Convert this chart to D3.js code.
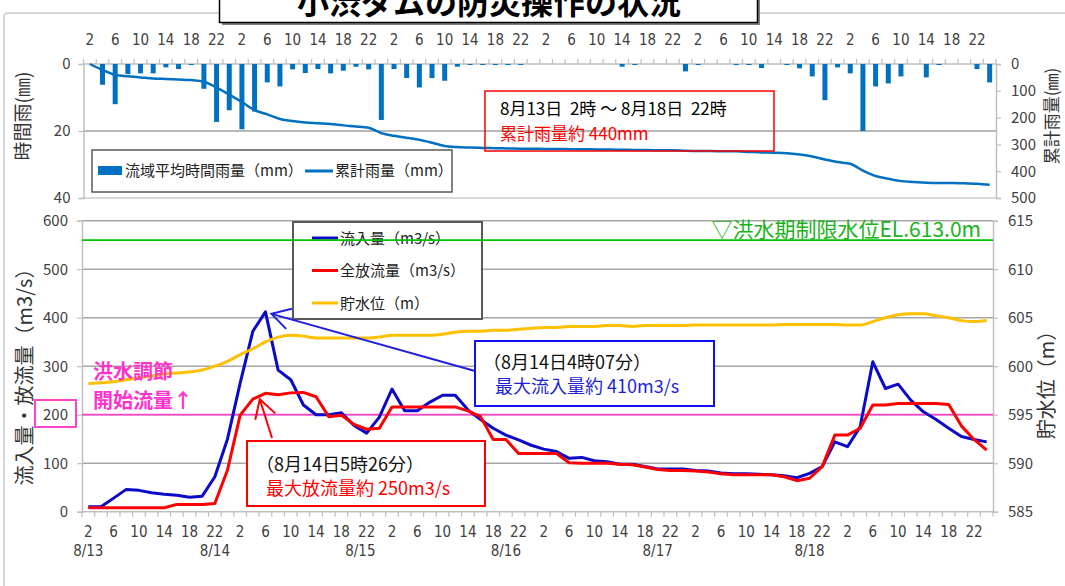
<!DOCTYPE html>
<html>
<head>
<meta charset="utf-8">
<script src="https://cdn.jsdelivr.net/npm/d3@7"></script>
<style>
  body { margin: 0; background: #fff; }
  svg { display: block; }
  text { font-family: "Noto Sans CJK JP", "Noto Sans", sans-serif; }
  .num { font-family: "Liberation Sans Narrow", "DejaVu Sans Condensed", "Liberation Sans", sans-serif; }
  .pre { white-space: pre; }
</style>
</head>
<body>
<svg id="chart" width="1065" height="586"></svg>
<script>
// ---- data: 2-hourly records, 8/13 2:00 to 8/18 24:00 ----
const days = ["8/13", "8/14", "8/15", "8/16", "8/17", "8/18"];
const hoursOfDay = [2, 4, 6, 8, 10, 12, 14, 16, 18, 20, 22, 24];
const hourTickLabels = ["2", "6", "10", "14", "18", "22"];
// category index under which each date label sits
const dateLabelCats = [0, 10, 21.5, 33, 45, 57];

// basin-average hourly rainfall (mm)
const rainHourly = [
  0, 6.2, 12, 3, 2.8, 2.8, 1, 1.5, 0.3, 7.4, 17.3, 13.8,
  19.5, 14.2, 5.5, 6.7, 1.6, 2.7, 1.5, 2.8, 2, 0.8, 1.6, 16.7,
  1.5, 4.2, 7, 4.2, 5, 0.8, 0.3, 0.3, 0.3, 0.3, 0.3, 0,
  0, 0, 0, 0, 0, 0, 0.8, 0.3, 0, 0, 0, 2.2,
  0.3, 0, 0, 0.3, 0.3, 1.2, 0, 0.3, 1.3, 3.7, 10.8, 1,
  2.8, 20, 6.7, 5.8, 3.7, 0, 4, 0.3, 0, 0, 1.5, 5.5
];
// cumulative rainfall (mm)
const rainCumulative = [
  0, 22, 40, 46, 50, 54, 56, 58, 60, 66, 88, 114,
  142, 172, 188, 205, 213, 218, 221, 224, 229, 233, 238, 258,
  268, 275, 283, 294, 306, 310, 312, 313, 314, 315, 316, 316,
  317, 317, 318, 318, 319, 319, 320, 321, 321, 322, 322, 324,
  325, 325, 326, 326, 328, 330, 331, 333, 338, 345, 356, 366,
  372, 398, 418, 428, 437, 440, 443, 444, 444, 445, 447, 451
];
// inflow (m3/s)
const inflow = [
  10, 10, 28, 46, 44, 39, 36, 34, 30, 32, 72, 150,
  265, 372, 412, 292, 272, 220, 200, 200, 204, 178, 162, 195,
  253, 208, 208, 226, 240, 240, 210, 190, 172, 158, 148, 137,
  129, 124, 110, 112, 105, 103, 98, 98, 93, 88, 88, 88,
  85, 84, 80, 78, 78, 77, 76, 74, 70, 79, 93, 144,
  134, 175, 309, 254, 263, 230, 206, 190, 172, 155, 149, 144
];
// total outflow (m3/s)
const outflow = [
  8, 8, 8, 8, 8, 8, 8, 15, 15, 15, 17, 86,
  199, 232, 244, 241, 245, 246, 237, 196, 199, 180, 170, 172,
  216, 216, 216, 216, 216, 216, 208, 196, 149, 149, 120, 120,
  120, 120, 101, 100, 100, 100, 98, 97, 92, 87, 85, 85,
  84, 82, 78, 76, 76, 76, 76, 72, 64, 69, 93, 158,
  158, 172, 220, 220, 223, 223, 223, 223, 221, 177, 149, 127
];
// reservoir water level (m)
const waterLevel = [
  598.2, 598.3, 598.4, 598.6, 598.8, 599.0, 599.2, 599.3, 599.4, 599.6, 600.0, 600.5,
  601.2, 601.8, 602.5, 603.0, 603.2, 603.1, 602.9, 602.9, 602.9, 602.9, 602.9, 603.0,
  603.2, 603.2, 603.2, 603.2, 603.3, 603.5, 603.6, 603.6, 603.7, 603.7, 603.8, 603.9,
  604.0, 604.0, 604.1, 604.1, 604.1, 604.2, 604.2, 604.1, 604.2, 604.2, 604.2, 604.2,
  604.25, 604.25, 604.25, 604.25, 604.25, 604.25, 604.25, 604.3, 604.3, 604.3, 604.3, 604.3,
  604.25, 604.25, 604.6, 605.0, 605.3, 605.4, 605.4, 605.2, 605.0, 604.7, 604.6, 604.7
];
const floodLimitLevel = 613.0;     // flood-season limit water level (m)
const floodControlStart = 200;     // flood control start discharge (m3/s)
const rainTicks = [0, 20, 40];
const cumTicks = [0, 100, 200, 300, 400, 500];
const flowTicks = [0, 100, 200, 300, 400, 500, 600];
const levelTicks = [585, 590, 595, 600, 605, 610, 615];

const categories = days.flatMap(d => hoursOfDay.map(h => `${d} ${h}時`));
const hourOf = i => hoursOfDay[i % hoursOfDay.length];

const svg = d3.select("#chart");
svg.append("rect").attr("width", 1065).attr("height", 586).attr("fill", "#fff");

const gridGray = "#a6a6a6";
const axisGray = "#bfbfbf";
const labelColor = "#404040";

// ---- outer frame and title ----
svg.append("path")
  .attr("d", "M4,586 V17 Q4,13 8,13 H219 M758,13 H1065")
  .attr("fill", "none").attr("stroke", "#c8c8c8").attr("stroke-width", 1.5);
svg.append("rect").attr("x", 222).attr("y", -6).attr("width", 538).attr("height", 31).attr("fill", "#7f7f7f");
svg.append("rect").attr("x", 219.5).attr("y", -8).attr("width", 538).attr("height", 30.5)
  .attr("fill", "#fff").attr("stroke", "#000").attr("stroke-width", 1.5);
svg.append("text").attr("x", 489).attr("y", 14).attr("text-anchor", "middle")
  .attr("font-size", 32).attr("font-weight", 700).attr("fill", "#000")
  .text("小渋ダムの防災操作の状況");

// ================= top chart: rainfall =================
const xT = d3.scaleBand().domain(d3.range(categories.length)).range([83.5, 996]).padding(0);
const cxT = i => xT(i) + xT.bandwidth() / 2;
const yRain = d3.scaleLinear().domain([0, 40]).range([64, 198]);
const yCum = d3.scaleLinear().domain([0, 500]).range([64, 198]);

const rainG = svg.append("g");
// gridline at 20 and frame bottom
rainG.append("line").attr("x1", 83.5).attr("x2", 996).attr("y1", yRain(20)).attr("y2", yRain(20))
  .attr("stroke", "#a0a0a0").attr("stroke-width", 1.5);
rainG.append("line").attr("x1", 83.5).attr("x2", 996).attr("y1", yRain(40)).attr("y2", yRain(40))
  .attr("stroke", "#d9d9d9").attr("stroke-width", 2);

// left and right axes
const axL = rainG.append("g").attr("transform", "translate(83.5,0)")
  .call(d3.axisLeft(yRain).tickValues(rainTicks).tickSize(5).tickPadding(8));
const axR = rainG.append("g").attr("transform", "translate(996,0)")
  .call(d3.axisRight(yCum).tickValues(cumTicks).tickSize(5).tickPadding(10));
[axL, axR].forEach(a => {
  a.select(".domain").attr("stroke", axisGray).attr("stroke-width", 1.5);
  a.selectAll(".tick line").attr("stroke", axisGray).attr("stroke-width", 1.2);
  a.selectAll("text").attr("font-family", "Liberation Sans, sans-serif")
    .attr("font-size", 15).attr("fill", labelColor);
});

// top category axis (zero line with upward ticks)
rainG.append("line").attr("x1", 83.5).attr("x2", 996).attr("y1", yRain(0)).attr("y2", yRain(0))
  .attr("stroke", axisGray).attr("stroke-width", 1.5);
rainG.append("g").selectAll("line").data(d3.range(categories.length + 1)).join("line")
  .attr("x1", i => xT.range()[0] + i * xT.step()).attr("x2", i => xT.range()[0] + i * xT.step())
  .attr("y1", yRain(0) - 5).attr("y2", yRain(0))
  .attr("stroke", axisGray).attr("stroke-width", 1.2);
rainG.append("g").selectAll("text")
  .data(d3.range(categories.length).filter(i => hourTickLabels.includes(String(hourOf(i)))))
  .join("text").attr("class", "num")
  .attr("x", cxT).attr("y", 45).attr("text-anchor", "middle")
  .attr("font-size", 15).attr("fill", labelColor)
  .text(i => hourOf(i));

// rainfall bars
rainG.append("g").selectAll("rect").data(rainHourly).join("rect")
  .attr("x", (d, i) => cxT(i) - 2.5).attr("width", 5)
  .attr("y", yRain(0)).attr("height", d => yRain(d) - yRain(0))
  .attr("fill", "#0070c0");
// cumulative rainfall
rainG.append("path").datum(rainCumulative)
  .attr("d", d3.line().x((d, i) => cxT(i)).y(d => yCum(d)).curve(d3.curveMonotoneX))
  .attr("fill", "none").attr("stroke", "#0070c0").attr("stroke-width", 2.5);

// axis titles
svg.append("text").attr("transform", "translate(30,116) rotate(-90)").attr("text-anchor", "middle")
  .attr("font-size", 19).attr("fill", "#333").text("時間雨(㎜)");
svg.append("text").attr("transform", "translate(1058,116) rotate(-90)").attr("text-anchor", "middle")
  .attr("font-size", 17).attr("fill", "#333").text("累計雨量(㎜)");

// legend
const lgT = rainG.append("g");
lgT.append("rect").attr("x", 92).attr("y", 150).attr("width", 360).attr("height", 42)
  .attr("fill", "#fff").attr("stroke", "#595959").attr("stroke-width", 1.5);
lgT.append("rect").attr("x", 98).attr("y", 166).attr("width", 24).attr("height", 9).attr("fill", "#0070c0");
lgT.append("text").attr("x", 125).attr("y", 176).attr("font-size", 15).attr("fill", "#222")
  .text("流域平均時間雨量（mm）");
lgT.append("line").attr("x1", 305).attr("x2", 333).attr("y1", 171).attr("y2", 171)
  .attr("stroke", "#0070c0").attr("stroke-width", 3);
lgT.append("text").attr("x", 335).attr("y", 176).attr("font-size", 15).attr("fill", "#222")
  .text("累計雨量（mm）");

// total rainfall note
rainG.append("rect").attr("x", 485).attr("y", 91).attr("width", 289).attr("height", 60)
  .attr("fill", "none").attr("stroke", "#ff0000").attr("stroke-width", 1.5);
rainG.append("text").attr("class", "pre").attr("x", 500).attr("y", 115).attr("font-size", 17).attr("fill", "#000")
  .text("8月13日  2時 〜 8月18日  22時");
rainG.append("text").attr("x", 500).attr("y", 140).attr("font-size", 17).attr("fill", "#ff0000")
  .text("累計雨量約 440mm");

// ================= bottom chart: inflow / outflow / level =================
const xB = d3.scaleBand().domain(d3.range(categories.length)).range([82, 993]).padding(0);
const cxB = i => xB(i) + xB.bandwidth() / 2;
const yFlow = d3.scaleLinear().domain([0, 600]).range([511.7, 220.7]);
const yLevel = d3.scaleLinear().domain([585, 615]).range([511.7, 220.7]);

const flowG = svg.append("g");
// gridlines
flowG.append("g").selectAll("line").data(flowTicks.filter(v => v > 0)).join("line")
  .attr("x1", 82).attr("x2", 993).attr("y1", d => yFlow(d)).attr("y2", d => yFlow(d))
  .attr("stroke", gridGray).attr("stroke-width", 1.5);

const bL = flowG.append("g").attr("transform", "translate(82,0)")
  .call(d3.axisLeft(yFlow).tickValues(flowTicks).tickSize(5).tickPadding(9));
const bR = flowG.append("g").attr("transform", "translate(993,0)")
  .call(d3.axisRight(yLevel).tickValues(levelTicks).tickSize(5).tickPadding(10));
[bL, bR].forEach(a => {
  a.select(".domain").attr("stroke", axisGray).attr("stroke-width", 1.5);
  a.selectAll(".tick line").attr("stroke", axisGray).attr("stroke-width", 1.2);
  a.selectAll("text").attr("font-family", "Liberation Sans, sans-serif")
    .attr("font-size", 15).attr("fill", labelColor);
});

// category axis at the bottom
flowG.append("line").attr("x1", 82).attr("x2", 993).attr("y1", yFlow(0)).attr("y2", yFlow(0))
  .attr("stroke", axisGray).attr("stroke-width", 1.5);
flowG.append("g").selectAll("line").data(d3.range(categories.length + 1)).join("line")
  .attr("x1", i => xB.range()[0] + i * xB.step()).attr("x2", i => xB.range()[0] + i * xB.step())
  .attr("y1", yFlow(0)).attr("y2", yFlow(0) + 5)
  .attr("stroke", axisGray).attr("stroke-width", 1.2);
flowG.append("g").selectAll("text")
  .data(d3.range(categories.length).filter(i => hourTickLabels.includes(String(hourOf(i)))))
  .join("text").attr("class", "num")
  .attr("x", cxB).attr("y", 537).attr("text-anchor", "middle")
  .attr("font-size", 15).attr("fill", labelColor)
  .text(i => hourOf(i));
flowG.append("g").selectAll("text").data(days).join("text").attr("class", "num")
  .attr("x", (d, k) => xB.range()[0] + (dateLabelCats[k] + 0.5) * xB.step())
  .attr("y", 556).attr("text-anchor", "middle")
  .attr("font-size", 15).attr("fill", labelColor)
  .text(d => d);

// flood control start discharge line
flowG.append("line").attr("x1", 82).attr("x2", 993)
  .attr("y1", yFlow(floodControlStart)).attr("y2", yFlow(floodControlStart))
  .attr("stroke", "#ff44cc").attr("stroke-width", 1.8);

// series
const lineFlow = d3.line().x((d, i) => cxB(i)).y(d => yFlow(d));
flowG.append("path").datum(inflow).attr("d", lineFlow)
  .attr("fill", "none").attr("stroke", "#0a0ac8").attr("stroke-width", 3).attr("stroke-linejoin", "round");
flowG.append("path").datum(outflow).attr("d", lineFlow)
  .attr("fill", "none").attr("stroke", "#ff0000").attr("stroke-width", 3).attr("stroke-linejoin", "round");
flowG.append("path").datum(waterLevel)
  .attr("d", d3.line().x((d, i) => cxB(i)).y(d => yLevel(d)).curve(d3.curveMonotoneX))
  .attr("fill", "none").attr("stroke", "#ffc000").attr("stroke-width", 3);

// axis titles
svg.append("text").attr("transform", "translate(32,372) rotate(-90)").attr("text-anchor", "middle")
  .attr("font-size", 20).attr("fill", "#333").text("流入量・放流量（m3/s）");
svg.append("text").attr("transform", "translate(1054,380) rotate(-90)").attr("text-anchor", "middle")
  .attr("font-size", 20).attr("fill", "#333").text("貯水位（m）");

// highlight of the 200 tick and its two-line caption
flowG.append("rect").attr("x", 35).attr("y", 400).attr("width", 41).attr("height", 27)
  .attr("fill", "none").attr("stroke", "#ff44cc").attr("stroke-width", 2);
flowG.append("text").attr("x", 93).attr("y", 379).attr("font-size", 20).attr("font-weight", 700)
  .attr("fill", "#ff33cc").text("洪水調節");
flowG.append("text").attr("x", 93).attr("y", 408).attr("font-size", 20).attr("font-weight", 700)
  .attr("fill", "#ff33cc").text("開始流量↑");

// legend
const lgB = flowG.append("g");
lgB.append("rect").attr("x", 293).attr("y", 222).attr("width", 189).attr("height", 97)
  .attr("fill", "#fff").attr("stroke", "#595959").attr("stroke-width", 2);
const legendItems = [
  { label: "流入量（m3/s）", color: "#0a0ac8" },
  { label: "全放流量（m3/s）", color: "#ff0000" },
  { label: "貯水位（m）", color: "#ffc000" }
];
legendItems.forEach((it, k) => {
  const y = 238 + k * 32.5;
  lgB.append("line").attr("x1", 312).attr("x2", 338).attr("y1", y).attr("y2", y)
    .attr("stroke", it.color).attr("stroke-width", 3);
  lgB.append("text").attr("x", 340).attr("y", y + 5.5).attr("font-size", 15).attr("fill", "#222")
    .text(it.label);
});

// flood-season limit water level
flowG.append("line").attr("x1", 82).attr("x2", 993)
  .attr("y1", yLevel(floodLimitLevel)).attr("y2", yLevel(floodLimitLevel))
  .attr("stroke", "#00c000").attr("stroke-width", 1.8);
flowG.append("text").attr("x", 981).attr("y", yLevel(floodLimitLevel) - 3).attr("text-anchor", "end")
  .attr("font-size", 21).attr("fill", "#19b419")
  .text(`▽洪水期制限水位EL.${floodLimitLevel.toFixed(1)}m`);

// arrow helper: open chevron at the tip
function arrow(g, tail, tip, color) {
  g.append("line").attr("x1", tail[0]).attr("y1", tail[1]).attr("x2", tip[0]).attr("y2", tip[1])
    .attr("stroke", color).attr("stroke-width", 2);
  const ang = Math.atan2(tail[1] - tip[1], tail[0] - tip[0]);
  const len = 21, spread = 30 * Math.PI / 180;
  const p1 = [tip[0] + len * Math.cos(ang - spread), tip[1] + len * Math.sin(ang - spread)];
  const p2 = [tip[0] + len * Math.cos(ang + spread), tip[1] + len * Math.sin(ang + spread)];
  g.append("path").attr("d", `M${p1}L${tip}L${p2}`)
    .attr("fill", "none").attr("stroke", color).attr("stroke-width", 2);
}

// peak inflow note
const iPeak = d3.maxIndex(inflow);
const ann = svg.append("g");
arrow(ann, [475, 371], [cxB(iPeak) + 6, yFlow(inflow[iPeak]) + 2], "#1f1fe0");
ann.append("rect").attr("x", 475).attr("y", 341).attr("width", 239).attr("height", 65)
  .attr("fill", "#fff").attr("stroke", "#1010f0").attr("stroke-width", 2);
ann.append("text").attr("x", 483).attr("y", 369).attr("font-size", 18).attr("fill", "#111")
  .text("（8月14日4時07分）");
ann.append("text").attr("x", 495).attr("y", 393).attr("font-size", 18).attr("fill", "#1f1fd6")
  .text("最大流入量約 410m3/s");

// peak outflow note
const iOut = 13;
arrow(ann, [272, 438], [cxB(iOut) + 7, yFlow(outflow[iOut])], "#ff0000");
ann.append("rect").attr("x", 247).attr("y", 441).attr("width", 238).attr("height", 65)
  .attr("fill", "#fff").attr("stroke", "#ff0000").attr("stroke-width", 2);
ann.append("text").attr("x", 256).attr("y", 471).attr("font-size", 18).attr("fill", "#111")
  .text("（8月14日5時26分）");
ann.append("text").attr("x", 266).attr("y", 495).attr("font-size", 18).attr("fill", "#ff0000")
  .text("最大放流量約 250m3/s");
</script>
</body>
</html>
